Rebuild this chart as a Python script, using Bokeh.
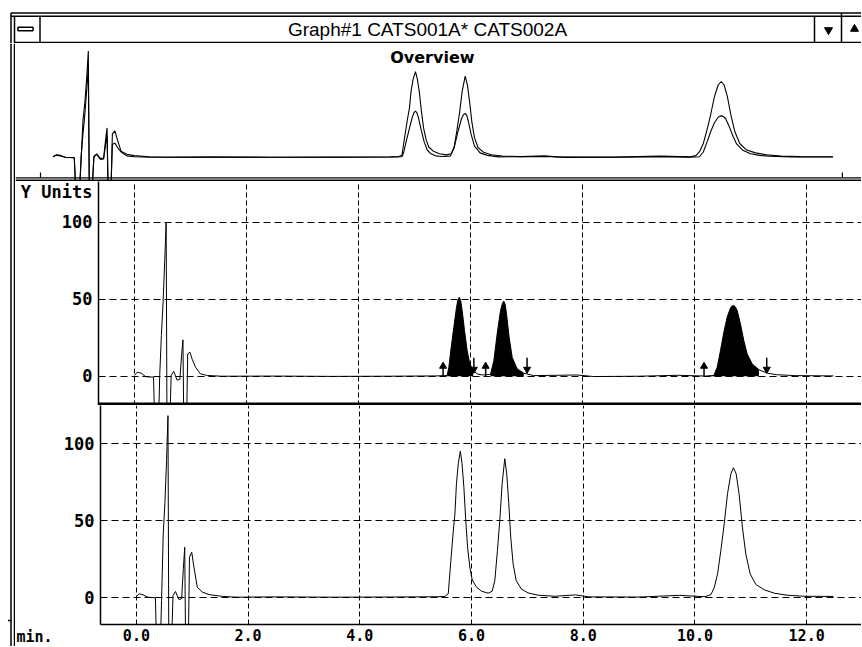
from bokeh.plotting import figure
from bokeh.layouts import column, row
from bokeh.models import Range1d, FixedTicker, Span, Label, PrintfTickFormatter
from bokeh.embed import file_html
from bokeh.resources import INLINE
from bokeh.core.properties import value

# ---------------- data ----------------
window_title = "Graph#1 CATS001A* CATS002A"
overview_title = "Overview"
y_unit_label = "Y Units"
x_unit_label = "min."
x_ticks = [0, 2, 4, 6, 8, 10, 12]
y_ticks = [0, 50, 100]
y_unit_pos = 121  # the "Y Units" caption sits on the Y axis above 100

# CATS001A (upper trace), time in min, signal in Y units
t1 = [0.00, 0.05, 0.12, 0.20, 0.34, 0.36, 0.43, 0.45, 0.48, 0.51, 0.54, 0.565, 0.58, 0.63,
      0.655, 0.70, 0.76, 0.81, 0.84, 0.865, 0.88, 0.93, 0.95, 0.99, 1.03, 1.09, 1.18, 1.30,
      1.55, 2.50, 3.50, 4.50, 5.40, 5.583, 5.613, 5.655, 5.702, 5.75, 5.775, 5.80, 5.825,
      5.851, 5.893, 5.94, 5.988, 6.048, 6.12, 6.21, 6.357, 6.417, 6.476, 6.536, 6.57, 6.595,
      6.62, 6.643, 6.69, 6.744, 6.833, 6.952, 7.13, 7.90, 8.20, 9.00, 9.70, 10.20, 10.345,
      10.405, 10.464, 10.524, 10.583, 10.643, 10.67, 10.70, 10.73, 10.762, 10.82, 10.88,
      10.94, 11.03, 11.15, 11.30, 11.46, 11.80, 12.48]
y1 = [0.5, 2.6, 2.0, -0.3, -0.6, -30, -30, 0.5, 26.4, 48, 75, 100, -30, -30,
      0.5, 3.2, -2.5, -2.0, 13.4, 23.6, -30, -30, 14.5, 15.6, 11.0, 5.8, 1.5, 0.5,
      0.0, 0.1, -0.1, 0.0, 0.2, 0.45, 5.8, 18.8, 31.8, 44.8, 49.5, 51.3, 49.0,
      42.7, 29.7, 16.7, 8.0, 3.7, 1.5, 0.8, 1.2, 10.2, 27.5, 42.7, 47.3, 48.7,
      46.5, 40.5, 25.3, 12.3, 4.8, 2.0, 0.4, 0.8, -0.2, 0.0, 0.6, 0.1, 0.5,
      5.8, 16.7, 28.6, 38.3, 44.4, 45.6, 45.9, 45.0, 42.7, 34.0, 23.2,
      14.5, 8.0, 4.2, 2.0, 1.0, 0.4, 0.2]

# CATS002A (lower trace)
t2 = [0.00, 0.05, 0.12, 0.20, 0.34, 0.36, 0.43, 0.45, 0.48, 0.51, 0.54, 0.565, 0.58, 0.63,
      0.655, 0.70, 0.76, 0.81, 0.84, 0.865, 0.88, 0.93, 0.95, 0.99, 1.03, 1.09, 1.18, 1.30,
      1.54, 1.80, 2.50, 3.50, 4.50, 5.40, 5.524, 5.583, 5.63, 5.673, 5.702, 5.73, 5.762,
      5.80, 5.83, 5.863, 5.893, 5.929, 5.97, 6.012, 6.089, 6.18, 6.298, 6.37, 6.417, 6.464,
      6.506, 6.548, 6.595, 6.631, 6.667, 6.702, 6.744, 6.80, 6.89, 7.01, 7.19, 7.49, 7.86,
      8.10, 9.00, 9.72, 10.18, 10.286, 10.345, 10.405, 10.464, 10.524, 10.583, 10.643,
      10.69, 10.738, 10.79, 10.85, 10.91, 10.988, 11.09, 11.24, 11.42, 11.65, 11.95, 12.48]
y2 = [0.5, 2.2, 1.5, 0.0, -0.4, -30, -30, -2.0, 41, 61, 89, 118, -30, -30,
      1.0, 3.7, -1.5, -1.0, 18.5, 32.5, -30, -30, 26.0, 29.3, 19.5, 6.5, 3.3, 1.7,
      0.5, 0.0, 0.2, 0.0, 0.1, 0.3, 0.5, 2.2, 23.8, 43.0, 54.0, 73.7, 86.7,
      95.0, 86.7, 71.5, 52.0, 32.5, 19.5, 11.3, 6.5, 3.9, 2.6, 3.9, 10.8, 30.4,
      50.0, 73.7, 90.0, 80.0, 60.7, 39.0, 21.7, 10.8, 5.4, 2.8, 1.3, 0.6, 1.5,
      0.2, 0.1, 1.2, 0.3, 1.7, 6.1, 15.2, 30.4, 47.7, 67.2, 80.2,
      84.1, 80.2, 67.2, 45.5, 28.2, 15.2, 8.3, 4.8, 2.6, 1.3, 0.6, 0.5]

# integration events on CATS001A (min)
peak_start = [5.51, 6.27, 10.17]
peak_end = [6.06, 7.01, 11.29]

# ---------------- styles ----------------
MONO = "DejaVu Sans Mono"
INK = "black"
Y_FONT = "17px"
X_FONT = "15px"


def no_align(p):
    if "frame_align" in p.properties():
        p.frame_align = False


def chrome_fig(w, h, xr, yr):
    p = figure(width=w, height=h, x_range=xr, y_range=yr, x_axis_location=None,
               y_axis_location=None, toolbar_location=None, output_backend="svg",
               min_border=0)
    p.grid.visible = False
    p.outline_line_color = None
    p.background_fill_color = "white"
    p.border_fill_color = "white"
    no_align(p)
    return p


# ---- title bar (page pixels) ----
tf = chrome_fig(861, 43, Range1d(0, 861), Range1d(43, 0))
tf.segment(x0=[10.5, 10.5, 10.5, 14, 39.5, 814, 841, 14],
           y0=[12.5, 15.7, 12.5, 15.7, 15.7, 15.7, 12.5, 42],
           x1=[861, 861, 10.5, 14, 39.5, 814, 841, 861],
           y1=[12.5, 15.7, 43, 43, 42, 42, 42, 42],
           line_color=INK, line_width=1.5)
tf.rect(x=[25], y=[28.5], width=15, height=3.5, fill_color="white", line_color=INK, line_width=1.5)
tf.text(x=[427], y=[29], text=[window_title], text_align="center", text_baseline="middle",
        text_font=value("Liberation Sans"), text_font_size="19px", text_color=INK)
tf.scatter(x=[828], y=[29.5], marker="inverted_triangle", size=8, color=INK)
tf.scatter(x=[854], y=[28.5], marker="triangle", size=8, color=INK)

# ---- left window border strip (page y 43..646) ----
strip = chrome_fig(15, 603, Range1d(0, 15), Range1d(603, 0))
strip.segment(x0=[10.5, 14, 7.5, 14, 14], y0=[0, 0, 577, 134.3, 137],
              x1=[10.5, 14, 11, 15, 15], y1=[603, 603, 577, 134.3, 137],
              line_color=INK, line_width=[1.5, 1.5, 1.5, 1.2, 2])

# ---- overview ----
ov = chrome_fig(846, 138, Range1d(-0.60, 12.936), Range1d(-27.0, 126.3))
ov.line(t1, y1, line_color=INK, line_width=1.1)
ov.line(t2, y2, line_color=INK, line_width=1.1)
ov.segment(x0=[-0.20, 12.63], y0=[-17.0, -17.0], x1=[-0.20, 12.63], y1=[-22.6, -22.6],
           line_color=INK, line_width=1.2)
ov.add_layout(Span(location=-22.9, dimension="width", line_color=INK, line_width=1.2))
ov.add_layout(Span(location=-25.9, dimension="width", line_color=INK, line_width=2))
ov.add_layout(Label(x=6.07, y=111.3, text=overview_title, text_align="center",
                    text_baseline="middle", text_font="DejaVu Sans", text_font_style="bold",
                    text_font_size="16px", text_color=INK))

# ---- main plots ----
xr_main = Range1d(-0.643, 12.982)


def main_fig(w, h, yr, left, bottom):
    p = figure(width=w, height=h, x_range=xr_main, y_range=yr,
               x_axis_location=("below" if bottom else None), toolbar_location=None,
               output_backend="svg", min_border_left=left, min_border_right=0,
               min_border_top=0, min_border_bottom=(22 if bottom else 0))
    no_align(p)
    p.outline_line_color = None
    p.background_fill_color = "white"
    p.border_fill_color = "white"
    p.xgrid.ticker = FixedTicker(ticks=x_ticks)
    p.ygrid.ticker = FixedTicker(ticks=y_ticks)
    p.xgrid.grid_line_color = INK
    p.xgrid.grid_line_dash = "5 3"
    p.xgrid.grid_line_width = 1
    p.ygrid.grid_line_color = INK
    p.ygrid.grid_line_dash = "7 4"
    p.ygrid.grid_line_width = 1
    ax = p.yaxis[0]
    ax.major_tick_line_color = None
    ax.minor_tick_line_color = None
    ax.major_tick_out = 0
    ax.major_tick_in = 0
    ax.minor_tick_out = 0
    ax.axis_line_color = INK
    ax.axis_line_width = 1.5
    ax.major_label_standoff = 6
    ax.major_label_text_font = MONO
    ax.major_label_text_font_style = "bold"
    ax.major_label_text_font_size = Y_FONT
    ax.major_label_text_color = INK
    if bottom:
        xa = p.xaxis[0]
        xa.ticker = FixedTicker(ticks=x_ticks)
        xa.formatter = PrintfTickFormatter(format="%.1f")
        xa.major_tick_line_color = None
        xa.minor_tick_line_color = None
        xa.major_tick_out = 0
        xa.major_tick_in = 0
        xa.minor_tick_out = 0
        xa.axis_line_color = INK
        xa.axis_line_width = 1.5
        xa.major_label_standoff = 4
        xa.major_label_text_font = MONO
        xa.major_label_text_font_style = "bold"
        xa.major_label_text_font_size = X_FONT
        xa.major_label_text_color = INK
    return p


up = main_fig(846, 224, Range1d(-19.0, 126.4), 83, False)
up.yaxis[0].ticker = FixedTicker(ticks=y_ticks + [y_unit_pos])
up.yaxis[0].major_label_overrides = {y_unit_pos: y_unit_label}
for s, e in zip(peak_start, peak_end):
    idx = [i for i, t in enumerate(t1) if s <= t <= e]
    up.varea(x=[t1[i] for i in idx], y1=0, y2=[y1[i] for i in idx], fill_color=INK)
up.line(t1, y1, line_color=INK, line_width=1)
up.segment(x0=peak_start, y0=[0] * len(peak_start), x1=peak_start, y1=[7] * len(peak_start),
           line_color=INK, line_width=1.5)
up.scatter(peak_start, [6.5] * len(peak_start), marker="triangle", size=7, color=INK)
up.segment(x0=peak_end, y0=[12] * len(peak_end), x1=peak_end, y1=[3] * len(peak_end),
           line_color=INK, line_width=1.5)
up.scatter(peak_end, [4.5] * len(peak_end), marker="inverted_triangle", size=7, color=INK)
up.add_layout(Span(location=-18.0, dimension="width", line_color=INK, line_width=3))

lo = main_fig(801, 241, Range1d(-17.75, 124.6), 38, True)
lo.yaxis[0].ticker = FixedTicker(ticks=y_ticks)
lo.line(t2, y2, line_color=INK, line_width=1)

# bottom-left corner holding the time unit caption
spacer = chrome_fig(45, 219, Range1d(0, 45), Range1d(219, 0))
corner = chrome_fig(45, 22, Range1d(0, 45), Range1d(22, 0))
corner.text(x=[1], y=[12.5], text=[x_unit_label], text_align="left", text_baseline="middle",
            text_font=value(MONO), text_font_style="bold", text_font_size=X_FONT,
            text_color=INK)

layout = column(tf, row(strip, column(ov, up, row(column(spacer, corner), lo))))

open("out.html", "w").write(file_html(layout, INLINE))
